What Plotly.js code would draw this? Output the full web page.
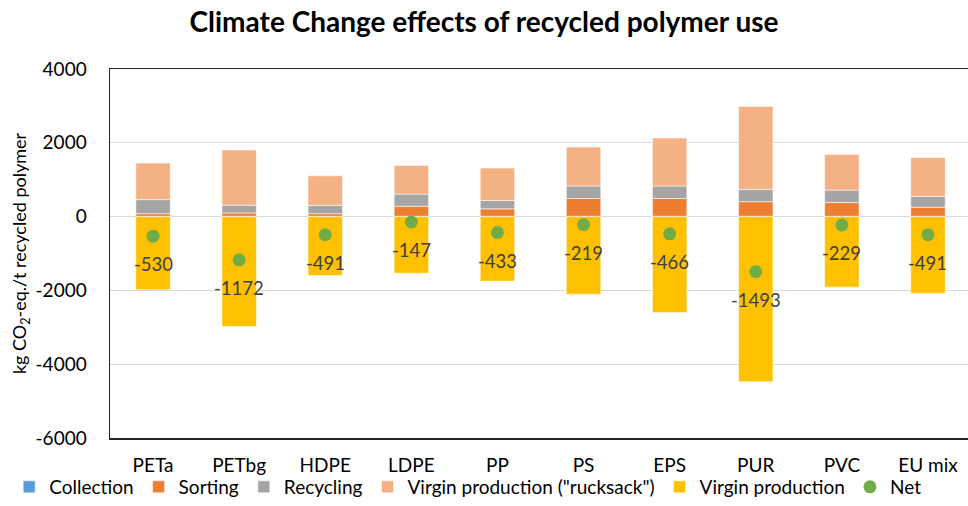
<!DOCTYPE html>
<html>
<head>
<meta charset="utf-8">
<script src="https://cdn.plot.ly/plotly-3.0.1.min.js"></script>
<style>html,body{margin:0;padding:0;background:#fff;}#chart{width:968px;height:506px;}</style>
</head>
<body>
<div id="chart"></div>
<script>
const categories = ["PETa","PETbg","HDPE","LDPE","PP","PS","EPS","PUR","PVC","EU mix"];
const collection = [10, 10, 10, 10, 10, 10, 10, 10, 10, 10];
const sorting    = [70, 90, 70, 270, 200, 480, 480, 395, 370, 245];
const recycling  = [380, 210, 225, 330, 225, 340, 340, 335, 340, 290];
const rucksack   = [990, 1495, 800, 775, 880, 1055, 1300, 2245, 965, 1055];
const virgin     = [-1980, -2977, -1596, -1532, -1748, -2104, -2596, -4478, -1914, -2081];
const net        = [-530, -1172, -491, -147, -433, -219, -466, -1493, -229, -491];
const yTicks     = [-6000, -4000, -2000, 0, 2000, 4000];
const yTickText  = ["-6000", "-4000", "-2000", "0", "2000", "4000"];

const FONT = "Lato, 'Open Sans', sans-serif";
const barLine = {color: "rgba(255,255,255,0.55)", width: 1};

function barTrace(name, vals, color) {
  return {type: "bar", name: name, x: categories, y: vals,
          marker: {color: color, line: barLine}, hoverinfo: "name+y"};
}

const traces = [
  barTrace("Collection", collection, "#5B9BD5"),
  barTrace("Sorting", sorting, "#ED7D31"),
  barTrace("Recycling", recycling, "#A5A5A5"),
  barTrace('Virgin production ("rucksack")', rucksack, "#F4B183"),
  barTrace("Virgin production", virgin, "#FFC000"),
  {type: "scatter", mode: "markers", name: "Net", x: categories, y: net,
   marker: {color: "#70AD47", size: 13, symbol: "circle"}}
];

const annotations = categories.map((c, i) => ({
  x: c, y: net[i], xref: "x", yref: "y", text: String(net[i]),
  showarrow: false, yshift: -28, font: {family: FONT, size: 18.5, color: "#404040"}
}));

const layout = {
  width: 968, height: 506,
  paper_bgcolor: "#ffffff", plot_bgcolor: "#ffffff",
  font: {family: FONT, size: 19, color: "#000000"},
  margin: {l: 110, r: 0, t: 69, b: 68, pad: 0},
  title: {text: "<b>Climate Change effects of recycled polymer use</b>",
          font: {family: FONT, size: 28, color: "#000000"},
          x: 0.5, xref: "container", y: 1 - 22/506, yref: "container", yanchor: "middle"},
  barmode: "relative", bargap: 0.6,
  xaxis: {type: "category", range: [-0.5, 9.465], showline: true, mirror: true,
          linecolor: "#262626", linewidth: 1.5, showgrid: false, ticks: "",
          ticklabelstandoff: 10, tickfont: {family: FONT, size: 19, color: "#000"}},
  yaxis: {range: [-6000, 4000], tickvals: yTicks, ticktext: yTickText,
          showline: true, linecolor: "#262626", linewidth: 1.5,
          showgrid: true, gridcolor: "#d9d9d9", gridwidth: 1.3,
          zeroline: true, zerolinecolor: "#d9d9d9", zerolinewidth: 1.3,
          ticks: "", ticklabelstandoff: 18, tickfont: {family: FONT, size: 19, color: "#000"},
          title: {text: "kg CO<sub>2</sub>-eq./t recycled polymer",
                  font: {family: FONT, size: 18, color: "#000"}, standoff: 4}},
  legend: {orientation: "h", xref: "paper", yref: "paper",
           x: -0.1175, xanchor: "left", y: -(506 - 438) / 369, yanchor: "bottom",
           traceorder: "normal", font: {family: FONT, size: 19, color: "#000"},
           itemwidth: 30, tracegroupgap: 0, bgcolor: "rgba(0,0,0,0)"},
  annotations: annotations,
  showlegend: true
};

Plotly.newPlot("chart", traces, layout, {displayModeBar: false, staticPlot: true});
</script>
</body>
</html>
